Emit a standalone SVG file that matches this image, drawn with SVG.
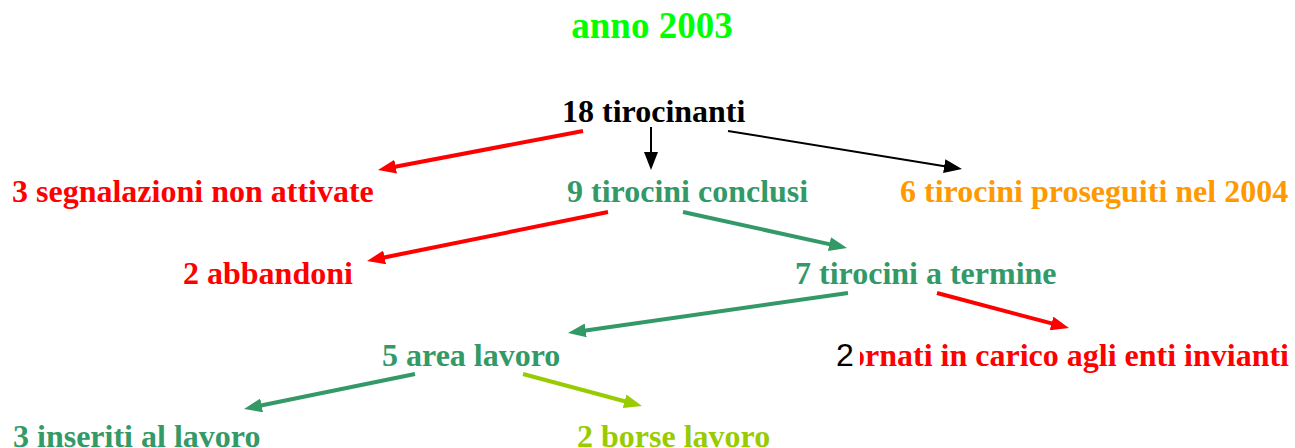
<svg xmlns="http://www.w3.org/2000/svg" width="1295" height="448" viewBox="0 0 1295 448">
<style>
text{font-family:"Liberation Serif","Times New Roman",serif;font-weight:bold;font-size:32px}
.red{fill:#FF0000}.grn{fill:#339966}.lime{fill:#99CC00}.org{fill:#FF9900}.blk{fill:#000}
.title{fill:#00FF00;font-size:37px}
.c{fill:none;stroke-width:4}
.cr{stroke:#FF0000}.cg{stroke:#339966}.cl{stroke:#99CC00}.ck{stroke:#000;stroke-width:2}
</style>
<defs>
<marker id="ar" markerUnits="userSpaceOnUse" markerWidth="18" markerHeight="14" refX="2" refY="7" orient="auto"><path d="M0,0 L18,7 L0,14 z" fill="#FF0000"/></marker>
<marker id="ak" markerUnits="userSpaceOnUse" markerWidth="18" markerHeight="14" refX="2" refY="7" orient="auto"><path d="M0,0 L18,7 L0,14 z" fill="#000"/></marker>
<marker id="ag" markerUnits="userSpaceOnUse" markerWidth="18" markerHeight="14" refX="2" refY="7" orient="auto"><path d="M0,0 L18,7 L0,14 z" fill="#339966"/></marker>
<marker id="al" markerUnits="userSpaceOnUse" markerWidth="18" markerHeight="14" refX="2" refY="7" orient="auto"><path d="M0,0 L18,7 L0,14 z" fill="#99CC00"/></marker>
</defs>
<rect width="1295" height="448" fill="#fff"/>
<g id="title"><text class="title" x="652" y="38" text-anchor="middle">anno 2003</text></g>
<g id="n18"><text class="blk" x="562" y="122">18 tirocinanti</text></g>
<g id="nSegn"><text class="red" x="12" y="202">3 segnalazioni non attivate</text></g>
<g id="nConcl"><text class="grn" x="567" y="202">9 tirocini conclusi</text></g>
<g id="nPros"><text class="org" x="900" y="202">6 tirocini proseguiti nel 2004</text></g>
<g id="nAbb"><text class="red" x="183" y="284">2 abbandoni</text></g>
<g id="nTerm"><text class="grn" x="795" y="284">7 tirocini a termine</text></g>
<g id="nArea"><text class="grn" x="382" y="366">5 area lavoro</text></g>
<g id="nRit">
<text class="red" x="849" y="366">ornati in carico agli enti invianti</text>
<rect x="834" y="336" width="26" height="36" fill="#fff"/>
<text x="836" y="366" style="font-family:'Liberation Sans',Arial,sans-serif;font-weight:normal;fill:#000">2</text>
</g>
<g id="nIns"><text class="grn" x="13" y="447">3 inseriti al lavoro</text></g>
<g id="nBorse"><text class="lime" x="577" y="447">2 borse lavoro</text></g>
<g id="connectors">
<line class="c cr" x1="583" y1="131" x2="393.7" y2="167" marker-end="url(#ar)"/>
<line class="c ck" x1="651" y1="127" x2="651" y2="154" marker-end="url(#ak)"/>
<line class="c ck" x1="728" y1="131" x2="946.2" y2="166.4" marker-end="url(#ak)"/>
<line class="c cr" x1="608" y1="212" x2="382.7" y2="257.8" marker-end="url(#ar)"/>
<line class="c cg" x1="683" y1="212" x2="831.4" y2="244.6" marker-end="url(#ag)"/>
<line class="c cg" x1="848" y1="293" x2="583.8" y2="330.7" marker-end="url(#ag)"/>
<line class="c cr" x1="937" y1="293" x2="1053.5" y2="323.9" marker-end="url(#ar)"/>
<line class="c cg" x1="415" y1="374" x2="259.7" y2="405.8" marker-end="url(#ag)"/>
<line class="c cl" x1="523" y1="374" x2="626.5" y2="401.8" marker-end="url(#al)"/>
</g>
</svg>
